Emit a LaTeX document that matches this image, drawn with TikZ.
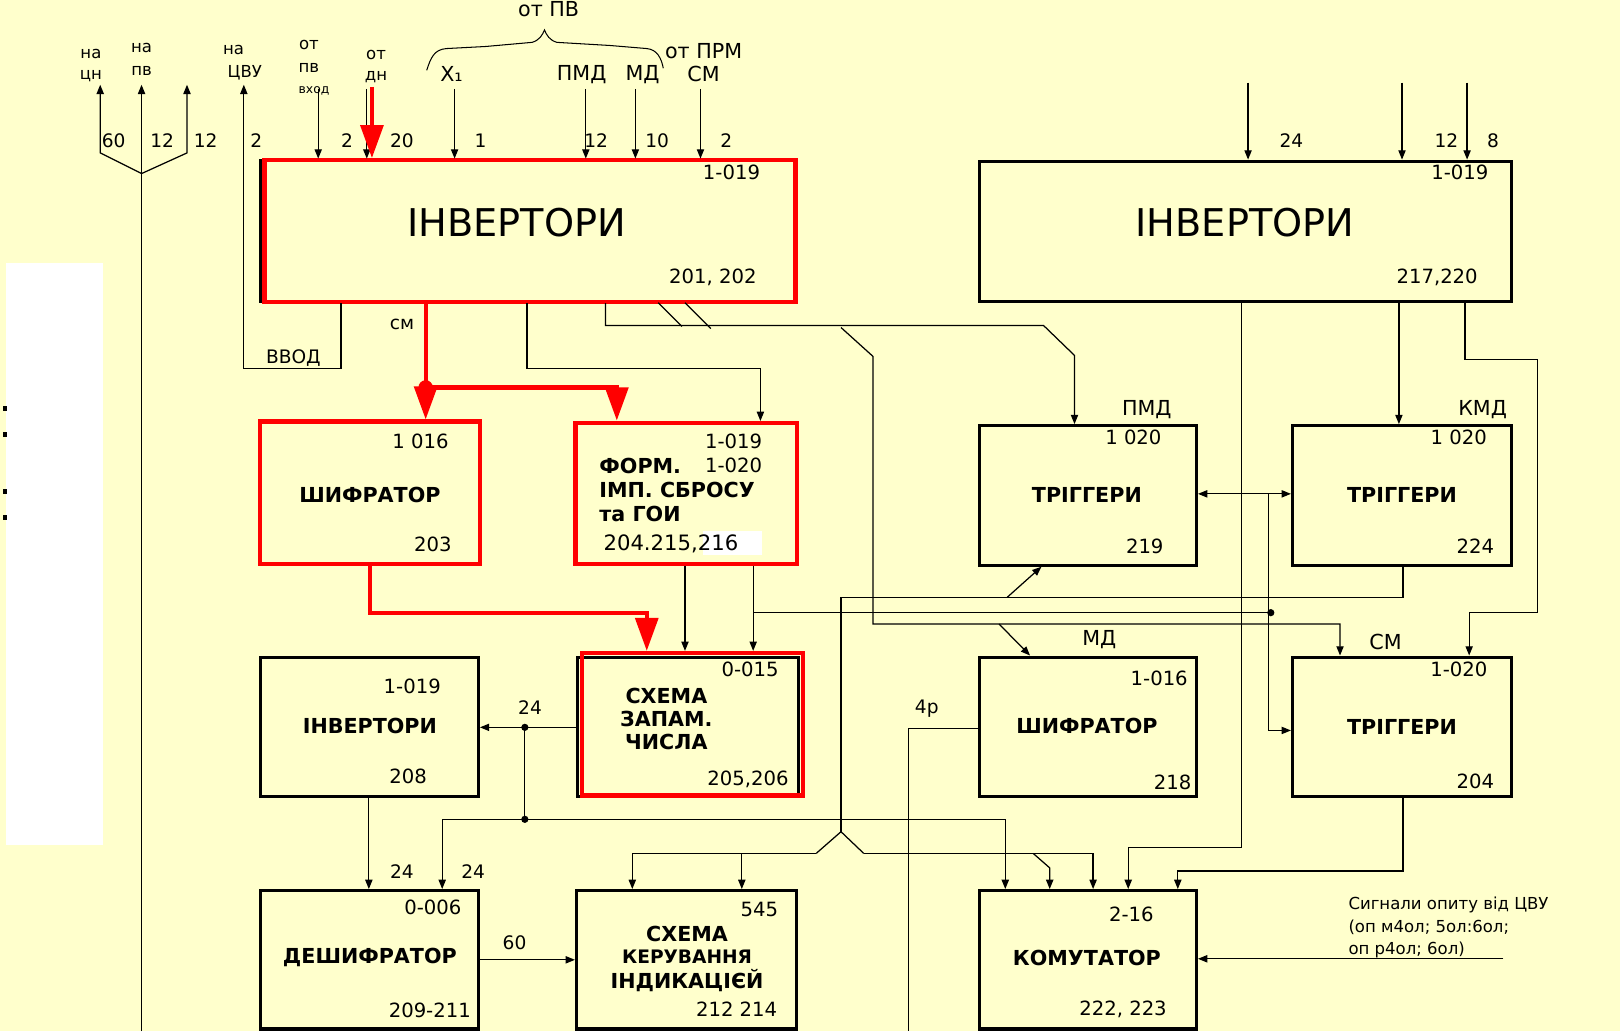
\documentclass[tikz,border=0pt]{standalone}
\usepackage{fontspec}
\setmainfont{DejaVu Sans}
\usetikzlibrary{arrows.meta}
\definecolor{bgc}{RGB}{255,255,204}
\tikzset{
  blk/.style={draw=black, line width=3pt, inner sep=0pt, rectangle},
  redb/.style={draw=red, line width=4pt, inner sep=0pt, rectangle},
  ln/.style={draw=black, line width=1.2pt},
  ar/.style={ln, -{Triangle[length=9pt,width=7pt]}},
  rl/.style={draw=red, line width=4pt},
  rar/.style={draw=red, line width=4pt, -{Triangle[length=32pt,width=22pt]}},
  big/.style={inner sep=0pt, font=\fontsize{37}{40}\selectfont},
  bn/.style={inner sep=0pt, font=\bfseries\fontsize{20}{22}\selectfont, align=center},
  num/.style={inner sep=0pt, font=\fontsize{19}{21}\selectfont},
  lab/.style={inner sep=0pt, font=\fontsize{18}{20}\selectfont},
  sm/.style={inner sep=0pt, font=\fontsize{16}{18}\selectfont},
  tiny/.style={inner sep=0pt, font=\fontsize{12}{13}\selectfont},
}
\begin{document}
\begin{tikzpicture}[x=1pt,y=-1pt]
\useasboundingbox (0,0) rectangle (1568,998);
\fill[bgc] (0,0) rectangle (1568,998);
\fill[white] (6,255) rectangle (100,818);
\foreach \yy in {393,418,473,498} \fill[black] (3,\yy) rectangle (7,\yy+5);

% ---------- boxes ----------
\node[blk,minimum width=518,minimum height=137] (inv1) at (511,223.5) {};
\node[blk,minimum width=515,minimum height=136] (inv2) at (1205.5,224) {};
\node[blk,minimum width=213,minimum height=138] (shif1) at (358.5,477) {};
\node[blk,minimum width=214,minimum height=137] (form) at (664,477.5) {};
\node[blk,minimum width=210,minimum height=135] (trg1) at (1053,479.5) {};
\node[blk,minimum width=212,minimum height=135] (trg2) at (1357,479.5) {};
\node[blk,minimum width=211,minimum height=135] (inv3) at (357.5,703.5) {};
\node[blk,minimum width=214,minimum height=135] (zap) at (666,703.5) {};
\node[blk,minimum width=210,minimum height=135] (shif2) at (1053,703.5) {};
\node[blk,minimum width=212,minimum height=135] (trg3) at (1357,703.5) {};
\node[blk,minimum width=211,minimum height=134] (desh) at (357.5,929) {};
\node[blk,minimum width=213,minimum height=134] (ker) at (664.5,929) {};
\node[blk,minimum width=210,minimum height=134] (kom) at (1053,929) {};

% red overlays
\node[redb,minimum width=514,minimum height=137] (inv1r) at (513,223.5) {};
\node[redb,minimum width=213,minimum height=138] (shif1r) at (358.5,477) {};
\node[redb,minimum width=214,minimum height=137] (formr) at (664,477.5) {};
\node[redb,minimum width=214,minimum height=138] (zapr) at (670,701) {};

% ---------- top-left outputs ----------
\coordinate (oCN) at (97,82);
\coordinate (oPV) at (137,82);
\coordinate (oPV2) at (181,82);
\coordinate (oCVU) at (236,82);
\coordinate (mrg) at (137,168);
\draw[ar] (137,998) -- (oPV);
\draw[ar] (mrg) -- (97,148) -- (oCN);
\draw[ar] (mrg) -- (181,148) -- (oPV2);
\draw[ar] (inv1.south -| 330,0) -- (330,357) -- (236,357) -- (oCVU);

% ---------- inputs to inv1 ----------
\foreach \xx in {308,355,440,567,615,678} \draw[ar] (\xx,86) -- (inv1.north -| \xx,0);
\draw[rar] (360,84) -- (inv1r.north -| 360,0);

% brace "от ПВ"
\draw[line width=1pt] (413,68) .. controls (417,56) and (420,48) .. (432,47)
  -- (470,45) -- (515,41) .. controls (522,39) and (525,34) .. (527,29)
  .. controls (529,34) and (532,39) .. (539,41) -- (590,44) -- (626,47)
  .. controls (636,48) and (640,56) .. (642,66);

% ---------- below inv1 ----------
\draw[rl] (inv1r.south -| 412,0) -- (412,375);
\draw[rar] (412,375) -- (shif1r.north -| 412,0);
\draw[rar] (412,375) -| (formr.north -| 597,0);
\fill[red] (412,375) circle (7);
\draw[ar] (inv1.south -| 510,0) -- (510,357) -- (736,357) -- (form.north -| 736,0);
\draw[ar] (inv1.south -| 586,0) -- (586,315) -- (1010,315) -- (1040,344) -- (trg1.north -| 1040,0);
\draw[ln] (637,293) -- (660,316);
\draw[ln] (663,293) -- (688,318);
\draw[ar] (814,317) -- (845,345) -- (845,604) -- (1297,604) -- (trg3.north -| 1297,0);
\draw[ar] (967,604) -- (shif2.north -| 997,0);

% form -> zap
\draw[ar] (form.south -| 663,0) -- (zapr.north -| 663,0);
\draw[ar] (form.south -| 729,0) -- (zapr.north -| 729,0);
\draw[ln] (729,593) -- (1230,593);
\fill (1230,593) circle (3.5);
% red shif1 -> zap
\draw[rl,-{Triangle[length=32pt,width=22pt]}] (shif1r.south -| 358,0) |- (626,593) -- (zapr.north -| 626,0);

% ---------- triggers ----------
\draw[ln,{Triangle[length=9pt,width=7pt]}-{Triangle[length=9pt,width=7pt]}] (trg1.east |- 0,478) -- (trg2.west |- 0,478);
\draw[ar] (1228,478) -- (1228,707) -- (trg3.west |- 0,707);
\draw[ln] (trg2.south -| 1358,0) -- (1358,578) -- (814,578) -- (814,805);
\draw[ar] (975,578) -- (trg1.south -| 1008,0);

% ---------- inv2 ----------
\foreach \xx in {1208,1357,1420} \draw[ar] (\xx,80) -- (inv2.north -| \xx,0);
\draw[ar] (inv2.south -| 1354,0) -- (trg2.north -| 1354,0);
\draw[ar] (inv2.south -| 1418,0) -- (1418,348) -- (1488,348) -- (1488,593) -- (1422,593) -- (trg3.north -| 1422,0);
\draw[ar] (inv2.south -| 1202,0) -- (1202,820) -- (1092,820) -- (kom.north -| 1092,0);
\draw[ar] (trg3.south -| 1358,0) -- (1358,843) -- (1140,843) -- (kom.north -| 1140,0);

% ---------- lower connections ----------
\draw[ln] (790,826) -- (814,805) -- (836,826);
\draw[ar] (790,826) -- (612,826) -- (ker.north -| 612,0);
\draw[ar] (718,826) -- (ker.north -| 718,0);
\draw[ar] (836,826) -- (1058,826) -- (kom.north -| 1058,0);
\draw[ar] (1000,826) -- (1016,840) -- (kom.north -| 1016,0);
\draw[ln] (shif2.west |- 0,705) -- (879,705) -- (879,998);

\draw[ar] (zap.west |- 0,704) -- (inv3.east |- 0,704);
\fill (508,704) circle (3.5);
\draw[ln] (508,704) -- (508,793);
\fill (508,793) circle (3.5);
\draw[ar] (508,793) -- (428,793) -- (desh.north -| 428,0);
\draw[ar] (508,793) -- (973,793) -- (kom.north -| 973,0);
\draw[ar] (inv3.south -| 357,0) -- (desh.north -| 357,0);
\draw[ar] (desh.east |- 0,929) -- (ker.west |- 0,929);
\draw[ar] (1455,928) -- (kom.east |- 0,928);

% ---------- texts ----------
\foreach \xx/\yy/\tt [count=\i] in {
  88/52/на, 88/74/цн, 137/46/на, 137/69/пв, 226/48/на, 237/70/ЦВУ,
  299/44/от, 299/66/пв, 364/53/от, 364/75/дн}
  \node[sm] (ta\i) at (\xx,\yy) {\tt};
\node[tiny] (tvh) at (304,88) {вход};

\foreach \xx/\yy/\tt [count=\i] in {
  110/136/60, 157/136/12, 199/136/12, 248/136/2, 336/136/2, 389/136/20,
  465/136/1, 577/136/12, 636/136/10, 703/136/2,
  1250/136/24, 1400/136/12, 1445/136/8,
  389/314/см, 284/347/ВВОД, 513/685/24, 389/844/24, 458/844/24, 498/912/60,
  897/686/4р}
  \node[lab] (tb\i) at (\xx,\yy) {\tt};

\foreach \xx/\yy/\tt [count=\i] in {
  531/9/от ПВ, 681/49/от ПРМ, 437/72/X₁, 563/72/ПМД, 622/72/МД, 681/72/СМ,
  1110/396/ПМД, 1435/396/КМД, 1064/619/МД, 1341/621/СМ}
  \node[lab,font=\fontsize{20}{22}\selectfont] (tc\i) at (\xx,\yy) {\tt};

% big titles
\node[big] (ti1) at (500,215) {ІНВЕРТОРИ};
\node[big] (ti2) at (1205,215) {ІНВЕРТОРИ};

% small numbers
\foreach \xx/\yy/\tt [count=\i] in {
  708/167/1-019, 690/268/{201, 202}, 1413/167/1-019, 1391/268/{217,220},
  407/427/1 016, 419/527/203, 710/427/1-019, 710/450/1-020,
  1097/423/1 020, 1108/529/219, 1412/423/1 020, 1428/529/224,
  399/664/1-019, 395/751/208, 726/648/0-015, 724/754/{205,206},
  1122/657/1-016, 1135/757/218, 1412/648/1-020, 1428/756/204,
  419/878/0-006, 416/978/209-211, 735/880/545, 713/977/212 214,
  1095/885/2-16, 1087/977/{222, 223}}
  \node[num] (tn\i) at (\xx,\yy) {\tt};

% bold names
\node[bn] (tm1) at (358,479) {ШИФРАТОР};
\node[bn,anchor=west] (tm2) at (580,451) {ФОРМ.};
\node[bn,anchor=west] (tm3) at (580,474) {ІМП. СБРОСУ};
\node[bn,anchor=west] (tm4) at (580,497) {та ГОИ};
\fill[white] (680,514) rectangle (738,537);
\node[num,anchor=west,font=\fontsize{20.5}{22}\selectfont] (tm5) at (584,526) {204.215,216};
\node[bn] (tm6) at (1052,479) {ТРІГГЕРИ};
\node[bn] (tm7) at (1357,479) {ТРІГГЕРИ};
\node[bn] (tm8) at (358,703) {ІНВЕРТОРИ};
\node[bn] (tm9) at (645,696) {СХЕМА\\ЗАПАМ.\\ЧИСЛА};
\node[bn] (tm10) at (1052,703) {ШИФРАТОР};
\node[bn] (tm11) at (1357,704) {ТРІГГЕРИ};
\node[bn] (tm12) at (358,927) {ДЕШИФРАТОР};
\node[bn] (tm13) at (665,904) {СХЕМА};
\node[bn,font=\bfseries\fontsize{18}{20}\selectfont] (tm14) at (665,926) {КЕРУВАННЯ};
\node[bn] (tm15) at (665,949) {ІНДИКАЦІЄЙ};
\node[bn] (tm16) at (1052,927) {КОМУТАТОР};

% right-side note
\node[sm,anchor=west,font=\fontsize{16}{18}\selectfont] (tr1) at (1305,876) {Сигнали опиту від ЦВУ};
\node[sm,anchor=west,font=\fontsize{16}{18}\selectfont] (tr2) at (1305,898) {(оп м4ол; 5ол:6ол;};
\node[sm,anchor=west,font=\fontsize{16}{18}\selectfont] (tr3) at (1305,919) {оп р4ол; 6ол)};
\end{tikzpicture}
\end{document}
